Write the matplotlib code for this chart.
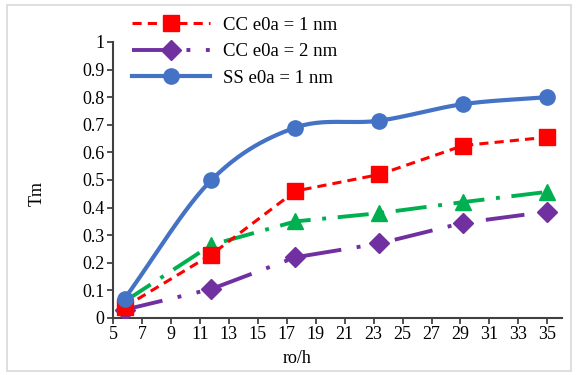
import numpy as np
import matplotlib.pyplot as plt
from matplotlib.patches import Rectangle
from matplotlib.lines import Line2D

plt.rcParams['font.family'] = ['Liberation Serif', 'DejaVu Serif']

# data
ro_h = [5.8, 11.8, 17.6, 23.4, 29.2, 35.0]
cc_1nm = [0.04, 0.23, 0.46, 0.52, 0.625, 0.655]
cc_2nm = [0.03, 0.105, 0.22, 0.27, 0.345, 0.385]
ss_1nm = [0.07, 0.50, 0.69, 0.715, 0.775, 0.80]
green = [0.06, 0.265, 0.35, 0.38, 0.42, 0.457]

x_ticks = list(range(5, 36, 2))
y_ticks = [0, 0.1, 0.2, 0.3, 0.4, 0.5, 0.6, 0.7, 0.8, 0.9, 1]
y_labels = ['0', '0.1', '0.2', '0.3', '0.4', '0.5', '0.6', '0.7', '0.8', '0.9', '1']


def smooth(x, y, n=30):
    # Catmull-Rom curve through the points (like Excel's smoothed line)
    x = np.asarray(x, float)
    y = np.asarray(y, float)
    px = np.concatenate([[2 * x[0] - x[1]], x, [2 * x[-1] - x[-2]]])
    py = np.concatenate([[2 * y[0] - y[1]], y, [2 * y[-1] - y[-2]]])
    xs, ys = [], []
    t = np.linspace(0, 1, n)
    for i in range(1, len(px) - 2):
        for p, out in ((px, xs), (py, ys)):
            p0, p1, p2, p3 = p[i - 1], p[i], p[i + 1], p[i + 2]
            out.extend(0.5 * (2 * p1 + (-p0 + p2) * t
                              + (2 * p0 - 5 * p1 + 4 * p2 - p3) * t ** 2
                              + (-p0 + 3 * p1 - 3 * p2 + p3) * t ** 3))
    return xs, ys


fig = plt.figure(figsize=(5.78, 3.75), dpi=100)
ax = fig.add_axes([0.1955, 0.152, 0.7765, 0.736])

fig.patches.append(Rectangle((0.012, 0.012), 0.976, 0.976, transform=fig.transFigure,
                             fill=False, edgecolor='#d9d9d9', linewidth=1.2))

red = '#ff0000'
purple = '#7030a0'
blue = '#4472c4'
grn = '#00b050'

ax.plot(ro_h, green, color=grn, lw=2.8, dashes=(8, 3, 1, 3),
        marker='^', ms=12, zorder=3)
ax.plot(ro_h, cc_2nm, color=purple, lw=2.8, dashes=(10, 4, 1, 4, 1, 4),
        marker='D', ms=10, zorder=3)
ax.plot(ro_h, cc_1nm, color=red, lw=2.2, dashes=(3, 2),
        marker='s', ms=12, zorder=4)
sx, sy = smooth(ro_h, ss_1nm)
ax.plot(sx, sy, color=blue, lw=3, zorder=5)
ax.plot(ro_h, ss_1nm, ls='none', color=blue, marker='o', ms=11, zorder=5)

ax.set_xlim(5, 36)
ax.set_ylim(0, 1)
ax.set_xticks(x_ticks)
ax.set_yticks(y_ticks)
ax.set_yticklabels(y_labels)
ax.tick_params(labelsize=13, direction='out', length=4, width=1.2, pad=2,
               colors='#333333', labelcolor='black')
for side in ('top', 'right'):
    ax.spines[side].set_visible(False)
for side in ('left', 'bottom'):
    ax.spines[side].set_color('#404040')
    ax.spines[side].set_linewidth(1.5)

ax.set_xlabel('ro/h', fontsize=13)
ax.xaxis.set_label_coords(0.41, -0.115)
ax.set_ylabel('Tm', fontsize=13)
ax.yaxis.set_label_coords(-0.15, 0.45)

handles = [
    Line2D([], [], color=red, lw=2.2, dashes=(3, 2), marker='s', ms=12),
    Line2D([], [], color=purple, lw=2.8, dashes=(10, 4, 1, 4, 1, 4), marker='D', ms=10),
    Line2D([], [], color=blue, lw=3, marker='o', ms=11),
]
fig.legend(handles, ['CC e0a = 1 nm', 'CC e0a = 2 nm', 'SS e0a = 1 nm'],
           loc='upper left', bbox_to_anchor=(0.205, 0.99), frameon=False,
           fontsize=13.5, handlelength=4.2, handletextpad=0.7,
           labelspacing=0.5, borderpad=0.2)

fig.savefig('out.png', dpi=100)
